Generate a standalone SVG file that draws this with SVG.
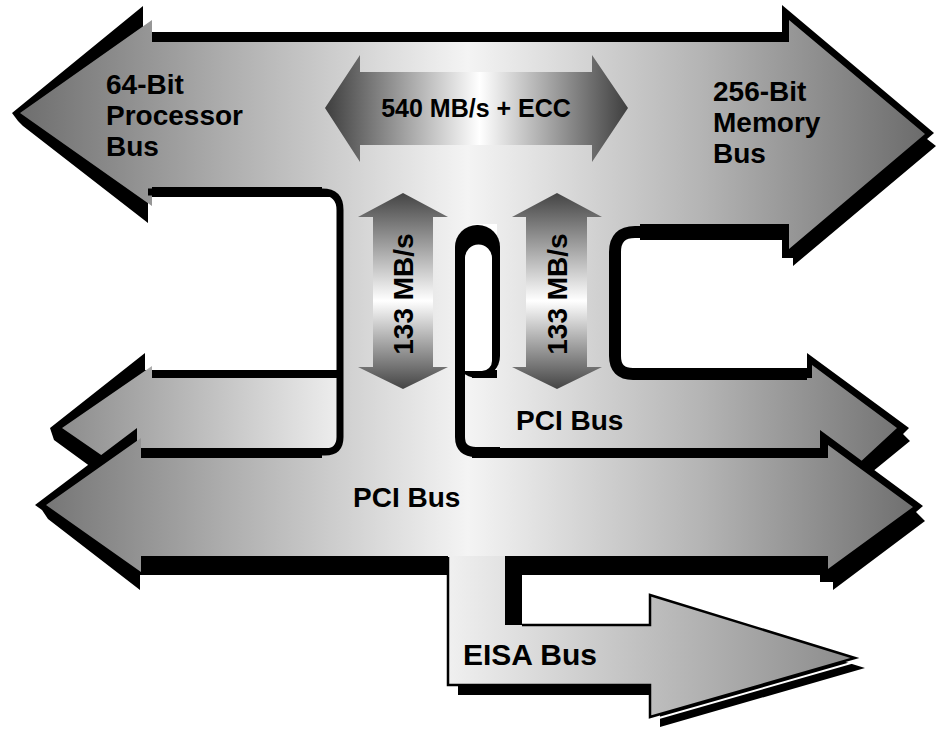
<svg xmlns="http://www.w3.org/2000/svg" width="936" height="729" viewBox="0 0 936 729">
<defs>
  <linearGradient id="gMain" gradientUnits="userSpaceOnUse" x1="0" y1="0" x2="936" y2="0">
    <stop offset="0" stop-color="#686868"/>
    <stop offset="0.25" stop-color="#b0b0b0"/>
    <stop offset="0.5" stop-color="#f4f4f4"/>
    <stop offset="0.75" stop-color="#b4b4b4"/>
    <stop offset="1" stop-color="#686868"/>
  </linearGradient>
  <linearGradient id="gB" gradientUnits="userSpaceOnUse" x1="55" y1="0" x2="340" y2="0">
    <stop offset="0" stop-color="#8a8a8a"/>
    <stop offset="1" stop-color="#eeeeee"/>
  </linearGradient>
  <linearGradient id="gEisa" gradientUnits="userSpaceOnUse" x1="448" y1="0" x2="860" y2="0">
    <stop offset="0" stop-color="#f0f0f0"/>
    <stop offset="1" stop-color="#8a8a8a"/>
  </linearGradient>
  <linearGradient id="g540" gradientUnits="userSpaceOnUse" x1="325" y1="0" x2="628" y2="0">
    <stop offset="0" stop-color="#3e3e3e"/>
    <stop offset="0.51" stop-color="#ffffff"/>
    <stop offset="1" stop-color="#3e3e3e"/>
  </linearGradient>
  <linearGradient id="g133" gradientUnits="userSpaceOnUse" x1="0" y1="193" x2="0" y2="389">
    <stop offset="0" stop-color="#444444"/>
    <stop offset="0.55" stop-color="#ffffff"/>
    <stop offset="1" stop-color="#444444"/>
  </linearGradient>
</defs>
<style>
  .blk{fill:#000}
  .main{fill:url(#gMain)}
  .line{fill:none;stroke:#000}
  .lbl{font-family:"Liberation Sans",Arial,sans-serif;font-weight:bold;fill:#000}
</style>
<rect width="936" height="729" fill="#fff"/>

<g id="pci-bus-upper-left">
  <polygon class="blk" points="50,428 145,353 145,370 343,370 343,470 150,510 54,440"/>
  <polygon fill="url(#gB)" points="62,428 152,366 152,378 343,378 343,460 152,460 152,490"/>
</g>

<g id="pci-bus-upper-right">
  <polygon class="blk" points="460,370 807,370 807,353 909,428 903,434 910,441 850,490 460,490"/>
  <polygon class="main" points="458,378 812,378 812,365 897,428 830,490 458,490"/>
  <text class="lbl" font-size="28" x="516" y="430">PCI Bus</text>
</g>

<g id="pci-bus">
  <polygon class="blk" points="35,505 137,428 137,448 820,448 820,430 923,506 916,512 925,521 833,590 833,582 820,582 820,575 140,575 140,590 48,519 42,510"/>
  <polygon class="main" points="46,505 141,438 141,458 828,458 828,445 913,507 828,569 828,556 141,556 141,572"/>
  <text class="lbl" font-size="28" x="353" y="507">PCI Bus</text>
</g>

<g id="processor-memory-bus">
  <polygon class="blk" points="12,113 143,6 143,32 782,32 782,5 934,133 927,139 936,146 793,266 793,258 782,258 782,240 640,240 640,224 343,224 343,197 148,197 148,223 23,126 18,121"/>
  <polygon class="main" points="20,113 152,20 152,42 789,42 789,20 925,134 789,249 789,224 343,224 343,187 152,187 152,206"/>
  <text class="lbl" font-size="28" x="106" y="94">64-Bit</text>
  <text class="lbl" font-size="28" x="106" y="125">Processor</text>
  <text class="lbl" font-size="28" x="106" y="156">Bus</text>
  <text class="lbl" font-size="28" x="713" y="101">256-Bit</text>
  <text class="lbl" font-size="28" x="713" y="132">Memory</text>
  <text class="lbl" font-size="28" x="713" y="163">Bus</text>
</g>

<g id="eisa-bus">
  <polygon class="blk" points="505,557 522,557 522,635 660,635 660,605 865,668 660,727 660,695 458,695 458,600"/>
  <polygon fill="url(#gEisa)" points="448,556 505,556 505,625 650,625 650,595 855,658 650,717 650,685 448,685"/>
  <line x1="652" y1="720" x2="858" y2="661" stroke="#fff" stroke-width="2"/>
  <path class="line" stroke-width="2.5" d="M448,557 V685 H650 V717 L855,658 L650,595 V625 H522"/>
  <text class="lbl" font-size="30" x="463" y="665">EISA Bus</text>
</g>

<g id="connectors">
  <path class="main" d="M322,185 H472 V466 H322 V452 Q340,452 340,437 V210 Q340,192 322,192 Z"/>
  <path class="main" d="M497,215 H640 V232 Q615,232 615,252 V356 Q615,374 633,374 H640 V381 H497 Z"/>
  <path class="line" stroke-width="7" d="M148,192 H322 Q340,192 340,210 V437 Q340,452 325,452 H141"/>
  <path class="line" stroke-width="12" d="M782,232 H635 Q615,232 615,252 V356 Q615,374 633,374 H807"/>
  <rect class="blk" x="455" y="225" width="45" height="153" rx="22"/>
  <path fill="#fff" d="M465,371 V258 A13.5,13.5 0 0 1 492,258 V361 A10,10 0 0 1 482,371 Z"/>
  <path class="line" stroke-width="10" d="M460,300 V437 Q460,452 476,452 H500"/>
</g>

<g id="rate-540">
  <polygon fill="url(#g540)" points="325,108 360,55 360,72 592,72 592,55 628,108 592,162 592,145 360,145 360,162"/>
  <text class="lbl" font-size="25" x="476" y="117" text-anchor="middle">540 MB/s + ECC</text>
</g>

<g id="rate-133-left">
  <polygon fill="url(#g133)" points="403,193 448,217 433,217 433,367 448,367 403,389 358,367 373,367 373,217 358,217"/>
  <text class="lbl" font-size="28" text-anchor="middle" transform="translate(413,294) rotate(-90)">133 MB/s</text>
</g>

<g id="rate-133-right">
  <polygon fill="url(#g133)" points="557,193 602,217 587,217 587,367 602,367 557,389 512,367 526,367 526,217 512,217"/>
  <text class="lbl" font-size="28" text-anchor="middle" transform="translate(567,294) rotate(-90)">133 MB/s</text>
</g>
</svg>
